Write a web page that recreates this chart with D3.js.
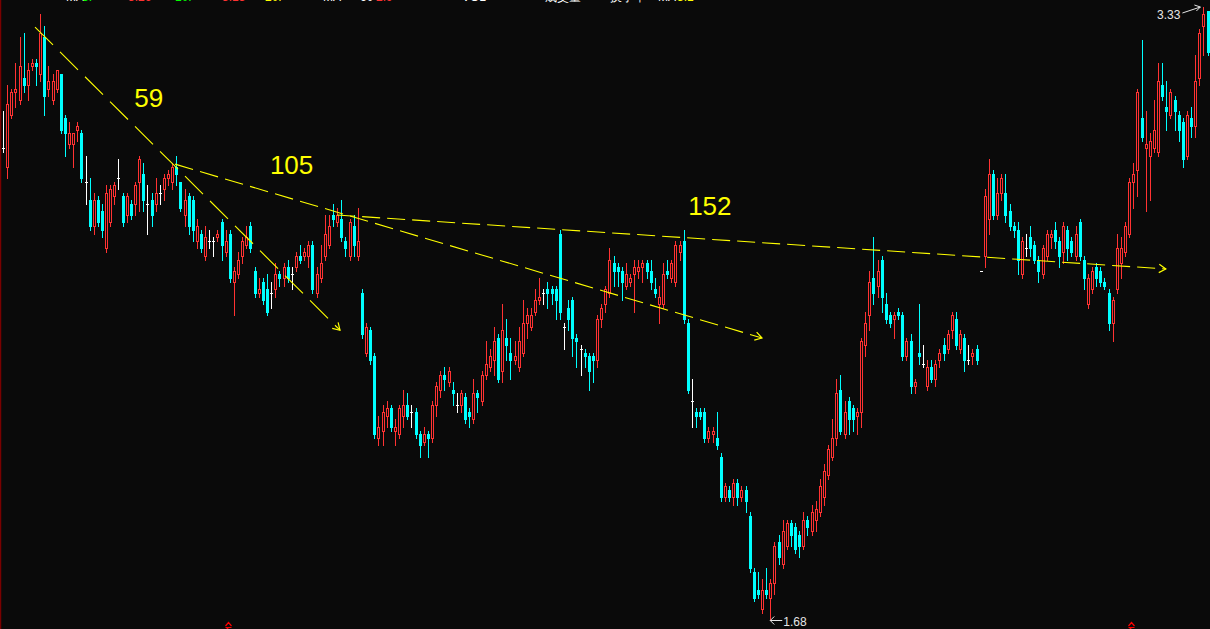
<!DOCTYPE html>
<html><head><meta charset="utf-8">
<script src="https://cdn.jsdelivr.net/npm/d3@7"></script>
<style>html,body{margin:0;padding:0;background:#0a0a0a;overflow:hidden}svg{display:block}</style>
</head><body>
<svg id="chart" width="1210" height="629"></svg>
<script>
// ---- data (daily OHLC) ----
const opens = [2.95,2.90,3.04,3.10,3.08,3.14,3.12,3.17,3.18,3.15,3.25,3.11,3.08,3.11,3.15,3.03,2.96,2.96,3.00,2.99,
2.86,2.81,2.74,2.81,2.78,2.68,2.75,2.82,2.87,2.82,2.77,2.80,2.80,2.86,2.88,2.80,2.81,2.80,2.83,2.84,
2.87,2.86,2.90,2.86,2.77,2.82,2.81,2.70,2.72,2.66,2.70,2.70,2.71,2.75,2.67,2.72,2.59,2.61,2.66,2.69,
2.74,2.62,2.56,2.59,2.57,2.56,2.57,2.61,2.60,2.63,2.61,2.63,2.66,2.66,2.66,2.69,2.56,2.60,2.66,2.69,
2.77,2.75,2.76,2.70,2.66,2.74,2.66,2.56,2.40,2.46,2.39,2.17,2.19,2.23,2.25,2.19,2.18,2.23,2.26,2.24,
2.24,2.18,2.16,2.18,2.17,2.26,2.30,2.34,2.32,2.30,2.26,2.26,2.28,2.24,2.22,2.29,2.27,2.34,2.36,2.38,
2.44,2.35,2.44,2.40,2.38,2.36,2.40,2.48,2.47,2.51,2.54,2.56,2.57,2.57,2.57,2.72,2.47,2.52,2.54,2.44,
2.41,2.40,2.39,2.39,2.38,2.49,2.53,2.56,2.64,2.63,2.62,2.58,2.59,2.61,2.62,2.63,2.64,2.62,2.57,2.53,
2.53,2.62,2.60,2.59,2.67,2.70,2.48,2.27,2.24,2.24,2.24,2.17,2.18,2.17,2.12,2.01,2.03,2.01,2.05,2.01,
2.03,1.96,1.81,1.76,1.71,1.76,1.74,1.78,1.89,1.83,1.88,1.94,1.93,1.91,1.88,1.95,1.92,1.95,1.97,2.01,
2.07,2.12,2.17,2.30,2.18,2.27,2.25,2.23,2.24,2.42,2.50,2.60,2.58,2.65,2.53,2.50,2.49,2.51,2.50,2.39,
2.43,2.31,2.40,2.37,2.31,2.36,2.33,2.38,2.42,2.41,2.46,2.49,2.41,2.44,2.38,2.39,2.41,2.62,2.66,2.76,
2.88,2.77,2.83,2.83,2.78,2.74,2.73,2.61,2.68,2.71,2.69,2.65,2.61,2.66,2.71,2.73,2.70,2.67,2.73,2.70,
2.66,2.75,2.65,2.53,2.57,2.63,2.62,2.59,2.56,2.48,2.57,2.64,2.67,2.72,2.86,2.89,3.03,2.95,2.93,2.95,
2.94,3.12,3.06,3.04,3.08,3.04,3.02,2.93,3.03,3.01,3.14,3.28,3.32];
const highs = [3.05,3.12,3.11,3.18,3.25,3.26,3.18,3.19,3.19,3.31,3.28,3.17,3.15,3.16,3.15,3.04,3.02,2.99,3.02,3.00,
2.93,2.87,2.83,2.82,2.80,2.85,2.85,2.86,2.92,2.83,2.83,2.81,2.86,2.93,2.91,2.85,2.83,2.87,2.85,2.88,
2.89,2.91,2.93,2.86,2.84,2.83,2.82,2.76,2.73,2.74,2.73,2.71,2.73,2.76,2.73,2.73,2.63,2.67,2.71,2.74,
2.75,2.63,2.60,2.60,2.61,2.59,2.64,2.62,2.64,2.65,2.63,2.67,2.69,2.68,2.70,2.70,2.63,2.69,2.77,2.77,
2.80,2.79,2.81,2.71,2.76,2.77,2.79,2.57,2.48,2.47,2.40,2.23,2.26,2.27,2.26,2.22,2.26,2.30,2.29,2.26,
2.25,2.19,2.20,2.19,2.27,2.32,2.35,2.36,2.36,2.32,2.29,2.30,2.29,2.25,2.33,2.30,2.35,2.43,2.41,2.47,
2.45,2.53,2.49,2.44,2.43,2.47,2.54,2.52,2.52,2.57,2.60,2.57,2.59,2.58,2.58,2.73,2.48,2.54,2.55,2.45,
2.42,2.41,2.40,2.40,2.50,2.53,2.58,2.68,2.66,2.64,2.63,2.64,2.61,2.65,2.65,2.65,2.65,2.65,2.60,2.58,
2.64,2.65,2.65,2.70,2.70,2.73,2.49,2.33,2.25,2.25,2.25,2.20,2.20,2.24,2.13,2.05,2.04,2.06,2.06,2.04,
2.04,1.97,1.82,1.81,1.79,1.82,1.79,1.89,1.91,1.95,1.95,1.95,1.94,1.92,1.97,1.96,1.99,2.00,2.06,2.10,
2.15,2.22,2.33,2.34,2.27,2.28,2.26,2.25,2.44,2.51,2.62,2.71,2.65,2.66,2.56,2.51,2.51,2.52,2.51,2.44,
2.45,2.33,2.53,2.42,2.38,2.38,2.38,2.41,2.44,2.46,2.51,2.51,2.46,2.45,2.42,2.41,2.42,2.62,2.84,2.92,
2.89,2.87,2.88,2.88,2.80,2.75,2.75,2.71,2.72,2.74,2.70,2.66,2.69,2.73,2.73,2.75,2.71,2.75,2.74,2.71,
2.74,2.76,2.66,2.61,2.63,2.64,2.63,2.60,2.57,2.55,2.72,2.71,2.75,2.87,2.91,3.11,3.24,3.05,2.99,3.08,
3.18,3.18,3.13,3.11,3.09,3.05,3.03,3.05,3.06,3.20,3.27,3.33,3.32];
const lows = [2.94,2.87,3.03,3.06,3.07,3.10,3.08,3.16,3.12,3.13,3.04,3.09,3.07,3.10,2.99,2.93,2.95,2.90,2.97,2.86,
2.80,2.73,2.72,2.74,2.71,2.67,2.74,2.80,2.84,2.74,2.75,2.76,2.77,2.78,2.78,2.72,2.74,2.78,2.80,2.81,
2.85,2.84,2.85,2.78,2.74,2.72,2.70,2.68,2.67,2.65,2.68,2.66,2.70,2.65,2.66,2.59,2.50,2.60,2.64,2.68,
2.67,2.55,2.55,2.53,2.50,2.52,2.55,2.58,2.58,2.59,2.57,2.62,2.64,2.65,2.63,2.56,2.55,2.59,2.65,2.68,
2.74,2.74,2.70,2.66,2.65,2.66,2.65,2.44,2.39,2.37,2.17,2.15,2.15,2.20,2.19,2.15,2.17,2.20,2.22,2.20,
2.17,2.12,2.15,2.12,2.16,2.23,2.28,2.30,2.31,2.26,2.24,2.24,2.21,2.20,2.21,2.24,2.26,2.33,2.35,2.34,
2.32,2.32,2.38,2.33,2.37,2.35,2.39,2.44,2.46,2.50,2.53,2.53,2.52,2.53,2.49,2.49,2.41,2.46,2.39,2.36,
2.34,2.36,2.30,2.32,2.36,2.47,2.51,2.55,2.58,2.58,2.54,2.57,2.58,2.51,2.60,2.59,2.60,2.57,2.55,2.48,
2.52,2.60,2.59,2.58,2.65,2.48,2.29,2.20,2.20,2.22,2.16,2.16,2.16,2.14,2.00,2.00,2.00,1.99,1.99,2.00,
1.97,1.81,1.73,1.74,1.70,1.74,1.68,1.75,1.83,1.82,1.87,1.88,1.86,1.85,1.87,1.91,1.91,1.92,1.96,1.99,
2.06,2.11,2.15,2.18,2.17,2.18,2.19,2.18,2.20,2.39,2.46,2.53,2.55,2.51,2.48,2.47,2.44,2.49,2.38,2.38,
2.29,2.29,2.37,2.36,2.30,2.32,2.31,2.36,2.38,2.40,2.44,2.41,2.40,2.35,2.37,2.37,2.37,2.62,2.63,2.72,
2.76,2.76,2.81,2.75,2.73,2.71,2.61,2.60,2.66,2.66,2.64,2.59,2.60,2.65,2.68,2.68,2.63,2.64,2.65,2.66,
2.65,2.65,2.57,2.52,2.56,2.58,2.58,2.57,2.46,2.43,2.56,2.60,2.66,2.71,2.79,2.82,2.97,2.78,2.81,2.94,
2.93,3.08,3.00,3.03,3.00,2.97,2.90,2.92,2.98,2.98,3.12,3.20,3.20];
const closes = [2.95,3.07,3.10,3.11,3.17,3.12,3.16,3.18,3.17,3.26,3.09,3.13,3.13,3.16,3.00,2.99,2.99,2.99,3.01,2.87,
2.86,2.74,2.81,2.75,2.73,2.83,2.84,2.85,2.87,2.75,2.82,2.77,2.85,2.92,2.81,2.80,2.77,2.83,2.83,2.87,
2.88,2.90,2.88,2.79,2.81,2.74,2.73,2.74,2.68,2.71,2.70,2.70,2.72,2.69,2.70,2.60,2.62,2.65,2.70,2.71,
2.68,2.56,2.57,2.54,2.51,2.56,2.61,2.60,2.63,2.60,2.61,2.66,2.65,2.67,2.69,2.57,2.61,2.64,2.72,2.74,
2.76,2.77,2.71,2.68,2.75,2.69,2.70,2.45,2.47,2.38,2.18,2.20,2.24,2.25,2.20,2.20,2.25,2.26,2.23,2.24,
2.18,2.15,2.18,2.17,2.26,2.31,2.34,2.33,2.35,2.29,2.26,2.29,2.22,2.23,2.29,2.28,2.34,2.37,2.39,2.43,
2.33,2.46,2.42,2.38,2.39,2.43,2.48,2.50,2.50,2.54,2.55,2.56,2.56,2.56,2.54,2.51,2.47,2.49,2.44,2.43,
2.41,2.39,2.35,2.38,2.49,2.52,2.57,2.65,2.62,2.62,2.59,2.61,2.60,2.63,2.63,2.64,2.62,2.59,2.56,2.55,
2.61,2.61,2.64,2.69,2.69,2.49,2.30,2.27,2.23,2.23,2.17,2.19,2.19,2.15,2.01,2.04,2.01,2.05,2.01,2.03,
2.00,1.82,1.74,1.75,1.76,1.75,1.78,1.88,1.85,1.92,1.94,1.91,1.87,1.88,1.95,1.93,1.97,1.98,2.04,2.08,
2.14,2.17,2.29,2.19,2.24,2.22,2.22,2.24,2.43,2.48,2.59,2.56,2.62,2.55,2.49,2.48,2.50,2.50,2.39,2.43,
2.31,2.32,2.39,2.37,2.36,2.33,2.37,2.40,2.40,2.45,2.50,2.42,2.45,2.38,2.38,2.40,2.38,2.62,2.82,2.88,
2.77,2.83,2.87,2.77,2.74,2.73,2.65,2.70,2.68,2.68,2.65,2.62,2.68,2.72,2.72,2.70,2.66,2.74,2.68,2.67,
2.72,2.66,2.60,2.60,2.62,2.60,2.59,2.58,2.48,2.54,2.68,2.68,2.74,2.86,2.88,3.10,2.98,2.96,2.97,3.00,
3.13,3.09,3.05,3.10,3.05,3.00,2.92,3.04,3.01,3.13,3.26,3.31,3.21];

// hand-drawn trend lines: [bar index, price] start and end
const trendStarts = [[7.76, 3.276], [41.7, 2.907], [81.0, 2.770]];
const trendEnds   = [[81.7, 2.460], [184.0, 2.439], [281.9, 2.625]];
// annotation labels: text, bar index, price (baseline-left)
const noteTexts  = ["59", "105", "152"];
const notePoints = [[31.8, 3.061], [64.7, 2.880], [166.1, 2.770]];
// bottom markers (bar index)
const markerBars = [55, 274];

// ---- chart ----
const W = 1210, H = 629;
const svg = d3.select("#chart");
svg.append("rect").attr("width", W).attr("height", H).attr("fill", "#0a0a0a");

const n = opens.length;
const x = d3.scaleLinear().domain([0, n - 1]).range([3, 1207.5]);
const y = d3.scaleLinear().domain([d3.min(lows), d3.max(highs)]).range([620, 7]);

const UP = "#ff3232", DOWN = "#00ffff", FLAT = "#ffffff", YEL = "#ffff00";

const bars = d3.range(n).map(i => ({ i, o: opens[i], h: highs[i], l: lows[i], c: closes[i] }));
const g = svg.append("g").attr("shape-rendering", "crispEdges");

const cand = g.selectAll("g.c").data(bars).join("g").attr("class", "c");
cand.each(function (d) {
  const s = d3.select(this);
  const cx = Math.round(x(d.i));
  const left = cx - 1;
  const yh = Math.round(y(d.h)), yl = Math.round(y(d.l));
  const yt = Math.round(y(Math.max(d.o, d.c))), yb = Math.round(y(Math.min(d.o, d.c)));
  if (d.c > d.o) {
    if (yt > yh) s.append("line").attr("x1", cx + 0.5).attr("x2", cx + 0.5).attr("y1", yh).attr("y2", yt).attr("stroke", UP);
    if (yl > yb) s.append("line").attr("x1", cx + 0.5).attr("x2", cx + 0.5).attr("y1", yb).attr("y2", yl + 1).attr("stroke", UP);
    s.append("rect").attr("x", left + 0.5).attr("y", yt + 0.5).attr("width", 2).attr("height", Math.max(1, yb - yt))
      .attr("fill", "none").attr("stroke", UP);
  } else if (d.c < d.o) {
    s.append("line").attr("x1", cx + 0.5).attr("x2", cx + 0.5).attr("y1", yh).attr("y2", yl + 1).attr("stroke", DOWN);
    s.append("rect").attr("x", left).attr("y", yt).attr("width", 3).attr("height", Math.max(1, yb - yt + 1)).attr("fill", DOWN);
  } else {
    if (yl > yh) s.append("line").attr("x1", cx + 0.5).attr("x2", cx + 0.5).attr("y1", yh).attr("y2", yl + 1).attr("stroke", FLAT);
    s.append("line").attr("x1", left).attr("x2", left + 3).attr("y1", yt + 0.5).attr("y2", yt + 0.5).attr("stroke", FLAT);
  }
});

// left border
svg.append("line").attr("x1", 0.5).attr("x2", 0.5).attr("y1", 0).attr("y2", H).attr("stroke", "#7a0000").attr("stroke-width", 1.5);

// header line (scrolled up, only its lowest pixels show, as in the reference)
const header = [
  ["MA", 66, FLAT], ["5:", 82, "#00ff00"], ["3.26", 128, UP], ["10:", 175, "#00ff00"], ["3.13", 222, UP],
  ["20:", 265, YEL], ["MA", 323, FLAT], ["60", 360, FLAT], ["2.9", 376, UP], ["VOL", 462, FLAT],
  ["成交量", 545, FLAT], ["换手率", 610, FLAT], ["MA", 658, FLAT], ["3.1", 677, YEL]
];
svg.append("g").selectAll("text").data(header).join("text")
  .attr("x", d => d[1]).attr("y", 1).attr("fill", d => d[2])
  .attr("font-family", "Liberation Sans, Arial, sans-serif").attr("font-size", 12)
  .text(d => d[0]);

// trend lines with arrows
const tl = svg.append("g").attr("stroke", YEL).attr("fill", "none");
trendStarts.forEach((s, k) => {
  const e = trendEnds[k];
  const x1 = x(s[0]), y1 = y(s[1]), x2 = x(e[0]), y2 = y(e[1]);
  const dx = x2 - x1, dy = y2 - y1;
  const len = Math.hypot(dx, dy), f = len / Math.max(Math.abs(dx), Math.abs(dy));
  tl.append("line").attr("x1", x1).attr("y1", y1).attr("x2", x2).attr("y2", y2)
    .attr("stroke-width", 1.1).attr("stroke-dasharray", `${18 * f},${7 * f}`);
  const a = Math.atan2(dy, dx), L = 8;
  tl.append("path").attr("stroke-width", 1.2)
    .attr("d", `M${x2 - L * Math.cos(a - 0.55)},${y2 - L * Math.sin(a - 0.55)}L${x2},${y2}L${x2 - L * Math.cos(a + 0.55)},${y2 - L * Math.sin(a + 0.55)}`);
});

svg.append("g").selectAll("text").data(noteTexts).join("text")
  .attr("x", (d, k) => x(notePoints[k][0])).attr("y", (d, k) => y(notePoints[k][1]))
  .attr("fill", YEL).attr("font-family", "Liberation Sans, Arial, sans-serif").attr("font-size", 26)
  .text(d => d);

// max / min labels
const iMax = d3.maxIndex(highs), iMin = d3.minIndex(lows);
const fmt = d3.format(".2f");
const LBL = "#e6e6e6";
{
  const tx = x(iMax) - 3, ty = y(highs[iMax]);
  const sx = tx - 18, sy = ty + 6;
  svg.append("path").attr("stroke", LBL).attr("fill", "none")
    .attr("d", `M${sx},${sy}L${tx},${ty}M${tx - 6},${ty - 2}L${tx},${ty}L${tx - 4},${ty + 4}`);
  svg.append("text").attr("x", sx - 2).attr("y", sy + 6).attr("text-anchor", "end")
    .attr("fill", LBL).attr("font-family", "Liberation Sans, Arial, sans-serif").attr("font-size", 12)
    .text(fmt(highs[iMax]));
}
{
  const tx = x(iMin), ty = y(lows[iMin]);
  const ex = tx + 12;
  svg.append("path").attr("stroke", LBL).attr("fill", "none")
    .attr("d", `M${ex},${ty + 0.5}L${tx},${ty + 0.5}M${tx + 4},${ty - 3.5}L${tx},${ty + 0.5}L${tx + 4},${ty + 4.5}`);
  svg.append("text").attr("x", ex + 1).attr("y", ty + 6).attr("fill", LBL)
    .attr("font-family", "Liberation Sans, Arial, sans-serif").attr("font-size", 12)
    .text(fmt(lows[iMin]));
}

// bottom red markers
svg.append("g").selectAll("path").data(markerBars).join("path")
  .attr("stroke", "#ff0000").attr("fill", "none").attr("stroke-width", 1.2)
  .attr("d", b => { const cx = Math.round(x(b)) - 1.5; return `M${cx - 3},626L${cx},622.5L${cx + 3},626M${cx - 3},627.5H${cx + 3}M${cx - 2},629.5L${cx},627.5`; });
</script>
</body></html>
